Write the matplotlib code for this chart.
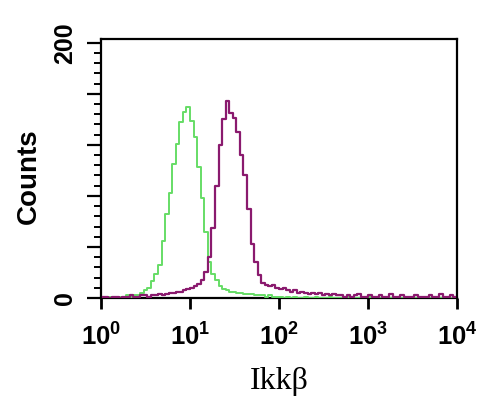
import numpy as np
import matplotlib
matplotlib.use("Agg")
import matplotlib.pyplot as plt
from matplotlib.ticker import FixedLocator, MultipleLocator, LogLocator, NullFormatter

plt.rcParams['mathtext.fontset'] = 'custom'
plt.rcParams['mathtext.rm'] = 'Liberation Sans:bold'
plt.rcParams['mathtext.bf'] = 'Liberation Sans:bold'

# log10 channel centres (0.04 decade bins over 4 decades)
log_centers = [0.02 + 0.04 * i for i in range(100)]

control_counts = [
    0, 0, 1, 0, 1, 1, 1, 2, 1, 2,
    2, 4, 6, 8, 13, 19, 26, 45, 66, 82,
    105, 121, 138, 146, 150, 139, 126, 103, 78, 52,
    28, 19, 14, 9, 7, 6, 5, 5, 4, 4,
    3, 3, 3, 2, 2, 2, 1, 2, 1, 1,
    1, 0, 1, 0, 1, 0, 0, 1, 0, 0,
    1, 0, 0, 0, 1, 0, 0, 0, 0, 1,
    0, 0, 0, 0, 0, 1, 0, 0, 0, 0,
    0, 0, 1, 0, 0, 0, 0, 0, 0, 0,
    0, 0, 0, 0, 0, 0, 0, 0, 0, 0,
]

ikkb_counts = [
    1, 1, 0, 1, 1, 0, 1, 1, 2, 1,
    1, 2, 2, 1, 2, 2, 3, 2, 3, 4,
    4, 5, 5, 6, 7, 8, 9, 11, 14, 20,
    32, 55, 88, 120, 140, 154, 145, 141, 130, 112,
    96, 70, 42, 28, 18, 12, 10, 9, 10, 8,
    7, 8, 6, 5, 6, 4, 5, 4, 3, 4,
    3, 4, 2, 3, 2, 3, 2, 2, 1, 2,
    1, 2, 3, 1, 1, 2, 1, 1, 2, 1,
    1, 3, 1, 1, 2, 1, 1, 1, 2, 1,
    1, 1, 2, 1, 1, 3, 1, 1, 2, 1,
]

x_tick_values = [1, 10, 100, 1000, 10000]
x_tick_labels = [r'$\mathbf{10^{0}}$', r'$\mathbf{10^{1}}$', r'$\mathbf{10^{2}}$',
                 r'$\mathbf{10^{3}}$', r'$\mathbf{10^{4}}$']
y_label_values = [0, 200]

fig = plt.figure(figsize=(4.82, 3.98), dpi=100)
fig.patch.set_facecolor('white')
ax = fig.add_axes([0.2095, 0.2513, 0.7386, 0.6508])

xc = 10 ** np.array(log_centers)
ax.step(xc, control_counts, where='mid', color='#66dd66', lw=1.4, zorder=3)
ax.step(xc, ikkb_counts, where='mid', color='#8a1a6e', lw=1.6, zorder=4)

ax.set_xscale('log')
ax.set_xlim(1, 10000)
ax.set_ylim(0, 203)

for s in ax.spines.values():
    s.set_linewidth(1.6)
    s.set_color('black')

ax.xaxis.set_major_locator(FixedLocator(x_tick_values))
ax.set_xticklabels(x_tick_labels)
ax.xaxis.set_minor_locator(LogLocator(base=10, subs=np.arange(2, 10)))
ax.xaxis.set_minor_formatter(NullFormatter())
ax.tick_params(axis='x', which='major', direction='out', length=8, width=2, labelsize=18.5, pad=11)
ax.tick_params(axis='x', which='minor', direction='out', length=6, width=2)

ax.yaxis.set_major_locator(MultipleLocator(40))
ax.yaxis.set_minor_locator(MultipleLocator(8))
ax.set_yticklabels([])
ax.tick_params(axis='y', which='major', direction='out', length=10, width=1.6)
ax.tick_params(axis='y', which='minor', direction='out', length=5, width=1.4)
for v in y_label_values:
    ax.text(-0.10, v, str(v), transform=ax.get_yaxis_transform(), rotation=90,
            ha='center', va='center', fontsize=18, family='Liberation Sans', weight='bold')

ax.set_ylabel('Counts', fontsize=20, family='Liberation Sans', weight='bold')
ax.yaxis.set_label_coords(-0.165, 0.47)
ax.set_xlabel('Ikkβ', fontsize=23, family='Liberation Serif')
ax.xaxis.set_label_coords(0.5, -0.265)

fig.savefig('out.png', dpi=100)
